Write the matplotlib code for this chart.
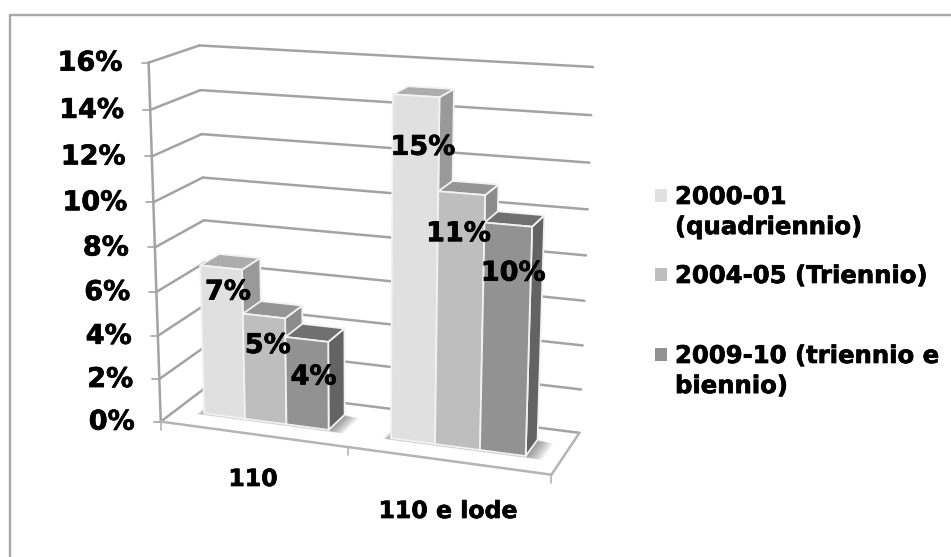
import numpy as np
import matplotlib
matplotlib.use('Agg')
import matplotlib.pyplot as plt
import matplotlib.patheffects as pe
from matplotlib.patches import Polygon

# Data
categories = ['110', '110 e lode']
series_names = ['2000-01\n(quadriennio)', '2004-05 (Triennio)', '2009-10 (triennio e\nbiennio)']
values_110 = [6.9, 4.9, 4.05]
values_lode = [15.0, 11.1, 9.95]
y_ticks = [0, 2, 4, 6, 8, 10, 12, 14, 16]

# Colours per series: front, top, side
front_cols = ['#e0e0e0', '#bebebe', '#929292']
top_cols = ['#adadad', '#959595', '#707070']
side_cols = ['#999999', '#8c8c8c', '#636363']
line_col = '#a3a3a3'

# Fit a camera matrix so (cat, depth, value) lands on the picture
known = [
    ((0, 0, 0), (162, 422)), ((0, 0, 16), (148, 62)),
    ((0, 1, 0), (207, 385)), ((0, 1, 16), (200, 46)),
    ((2, 1, 0), (580, 433)), ((2, 1, 16), (593, 67)),
    ((2, 0, 0), (551, 474)), ((1, 0, 0), (348, 448)),
]
A, b = [], []
for (x, z, y), (px, py) in known:
    A.append([x, z, y, 1, 0, 0, 0, 0, -px*x, -px*z, -px*y])
    A.append([0, 0, 0, 0, x, z, y, 1, -py*x, -py*z, -py*y])
    b += [px, py]
m = np.linalg.lstsq(np.array(A, float), np.array(b, float), rcond=None)[0]
P = np.append(m, 1).reshape(3, 4)


def proj(x, z, y):
    u = P @ np.array([x, z, y, 1.0])
    return u[0]/u[2], u[1]/u[2]


fig = plt.figure(figsize=(9.51, 5.57), dpi=100)
ax = fig.add_axes([0, 0, 1, 1])
ax.set_xlim(0, 951)
ax.set_ylim(557, 0)
ax.axis('off')
plt.rcParams['font.family'] = 'DejaVu Sans'
heavy = [pe.withStroke(linewidth=0.5, foreground='black')]

# Outer frame: only the left and top edges are inside the picture
ax.plot([9.5, 9.5, 951], [557, 14.5, 14.5], color='#a8a8a8', lw=1.7)


def seg(p, q, col=line_col, lw=1.8, z=1):
    ax.plot([p[0], q[0]], [p[1], q[1]], color=col, lw=lw, zorder=z, solid_capstyle='round')


# Walls and gridlines
for v in y_ticks:
    front = proj(0, 0, v)
    back = proj(0, 1, v)
    seg(front, back)
    seg(back, proj(2, 1, v))
    seg(front, (front[0]-7, front[1]), lw=1.2)
    ax.text(front[0]-26, front[1]+1, f'{v}%', ha='right', va='center',
            fontsize=19.5, fontweight='bold', color='black', path_effects=heavy)
seg(proj(0, 0, 0), proj(0, 0, 16))

# Floor outline and category ticks
seg(proj(0, 0, 0), proj(2, 0, 0), col='#b4b4b4')
seg(proj(2, 0, 0), proj(2, 1, 0), col='#b4b4b4')
for c in range(3):
    p = proj(c, 0, 0)
    seg(p, (p[0], p[1]+8), col='#b4b4b4', lw=1.2)

# Bars
bar_start = 0.155
bar_w = 0.225
z0, z1 = 0.32, 0.72


def poly(pts, col, zo):
    ax.add_patch(Polygon(pts, closed=True, facecolor=col, edgecolor='#f2f2f2',
                         lw=1.3, joinstyle='round', zorder=zo))


def box(x0, x1, h, k, zo):
    # side, top, then front so the white edges stay clean
    poly([proj(x1, z0, 0), proj(x1, z1, 0), proj(x1, z1, h), proj(x1, z0, h)], side_cols[k], zo)
    poly([proj(x0, z0, h), proj(x1, z0, h), proj(x1, z1, h), proj(x0, z1, h)], top_cols[k], zo)
    poly([proj(x0, z0, 0), proj(x1, z0, 0), proj(x1, z0, h), proj(x0, z0, h)], front_cols[k], zo)


for c, vals in enumerate([values_110, values_lode]):
    # Soft shadow on the floor, many faint layers
    xa, xb = c + bar_start, c + bar_start + 3*bar_w
    for grow in np.linspace(0.085, 0.005, 12):
        pts = [proj(xa-grow*0.4, z0-grow*0.5, 0), proj(xb+grow, z0-grow*0.5, 0),
               proj(xb+grow, z1-grow*0.5, 0), proj(xa-grow*0.4, z1-grow*0.5, 0)]
        ax.add_patch(Polygon(pts, closed=True, facecolor='#444444', edgecolor='none',
                             alpha=0.06, zorder=2))
    for k, v in enumerate(vals):
        x0 = c + bar_start + k*bar_w
        box(x0, x0 + bar_w, v, k, 3 + c*5 + k)

# Data labels, offsets in pixels from the top of each front face
label_dx = [[7, 4, 7], [7, -3, 5]]
label_dy = [[25, 30, 38], [52, 41, 49]]
for c, vals in enumerate([values_110, values_lode]):
    for k, v in enumerate(vals):
        x0 = c + bar_start + k*bar_w
        px, py = proj(x0 + bar_w/2, z0, v)
        ax.text(px + label_dx[c][k], py + label_dy[c][k], f'{v:.0f}%', ha='center', va='center',
                fontsize=19.5, fontweight='bold', color='black', zorder=20, path_effects=heavy)

# Category labels
ax.text(253, 479, categories[0], ha='center', va='center', fontsize=17, fontweight='bold', path_effects=heavy)
ax.text(448, 511, categories[1], ha='center', va='center', fontsize=17, fontweight='bold', path_effects=heavy)

# Legend
leg_y = [195, 274, 354]
for name, col, y in zip(series_names, front_cols, leg_y):
    ax.add_patch(plt.Rectangle((655, y-6.5), 12, 13, facecolor=col, edgecolor='none'))
    ax.text(675, y-10, name, ha='left', va='top', fontsize=17.5, fontweight='bold',
            linespacing=1.32, path_effects=heavy)

fig.savefig('out.png', dpi=100)
